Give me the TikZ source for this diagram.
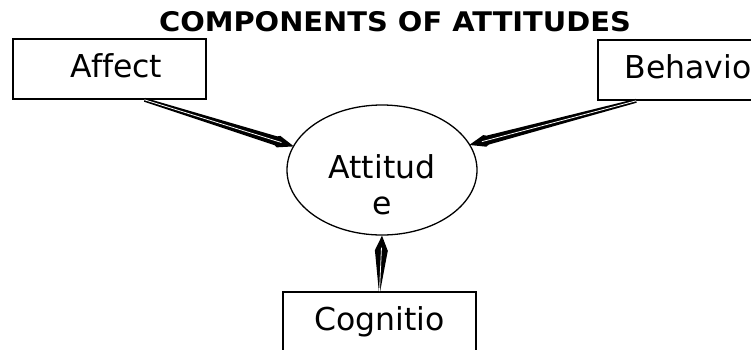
\documentclass[tikz,border=0pt]{standalone}
\usepackage{fontspec}
\setmainfont{DejaVu Sans}[Ligatures=NoCommon]
\usepackage{graphicx}
\usetikzlibrary{calc,shapes.geometric}
\newcommand{\widen}[2][1.0]{\scalebox{#1}[1]{#2}}
% #1 tail, #2 tip, #3 kite half-width, #4 shaft half-width, #5 tail half-width, #6 kite length
\newcommand{\taperarrow}[6]{%
  \fill ($(#2)!#6!(#1)!#3!90:(#1)$) -- (#2) -- ($(#2)!#6!(#1)!#3!-90:(#1)$)
    -- ($(#2)!#6+3pt!(#1)!#4!-90:(#1)$)
    -- ($(#1)!#5!90:(#2)$) -- ($(#1)!#5!-90:(#2)$)
    -- ($(#2)!#6+3pt!(#1)!#4!90:(#1)$) -- cycle;
  \draw[white,line width=0.8pt] (#1) -- ($(#2)!#6-3pt!(#1)$);
}

\begin{document}
\begin{tikzpicture}[x=1pt,y=-1pt,
  box/.style={draw,line width=1.6pt,minimum width=193pt,inner xsep=0pt,inner ysep=0pt,
    text height=38pt,text depth=22pt,font=\fontsize{31.5}{36}\selectfont}]
  \useasboundingbox (0,0) rectangle (751,349);
  \clip (0,0) rectangle (751,349);
  \node[inner sep=0pt,font=\fontsize{27}{30}\selectfont\bfseries] (title) at (395,21.5)
    {\widen[1.07]{COMPONENTS OF ATTITUDES}};
  \node[box] (affect) at (109.5,69) {\hspace*{14pt}\widen{Affect}};
  \node[box] (behav) at (694.5,70) {\widen{Behavio\phantom{r}}};
  \node[box] (cognit) at (379.5,322) {\widen{Cognitio}};
  \node[ellipse,draw,line width=1.3pt,minimum width=190pt,minimum height=130pt,inner sep=0pt]
    (att) at (382,170) {};
  \node[inner sep=0pt,align=center,font=\fontsize{31.5}{36}\selectfont] (att-text) at (382,185)
    {\widen{Attitud}\\\widen{e}};
  \coordinate (affect-out) at ($(affect.south west)!0.68!(affect.south east)$);
  \coordinate (behav-out) at ($(behav.south west)!0.2!(behav.south east)$);
  \coordinate (att-left) at ($(att.165)!1pt!(att.center)$);
  \coordinate (att-right) at ($(att.16)!1pt!(att.center)$);
  \taperarrow{affect-out}{att-left}{6pt}{4.6pt}{2pt}{16pt}
  \taperarrow{behav-out}{att-right}{6pt}{4.6pt}{2pt}{16pt}
  \taperarrow{cognit.north}{att.south}{6.5pt}{6pt}{0.7pt}{15pt}
\end{tikzpicture}
\end{document}
